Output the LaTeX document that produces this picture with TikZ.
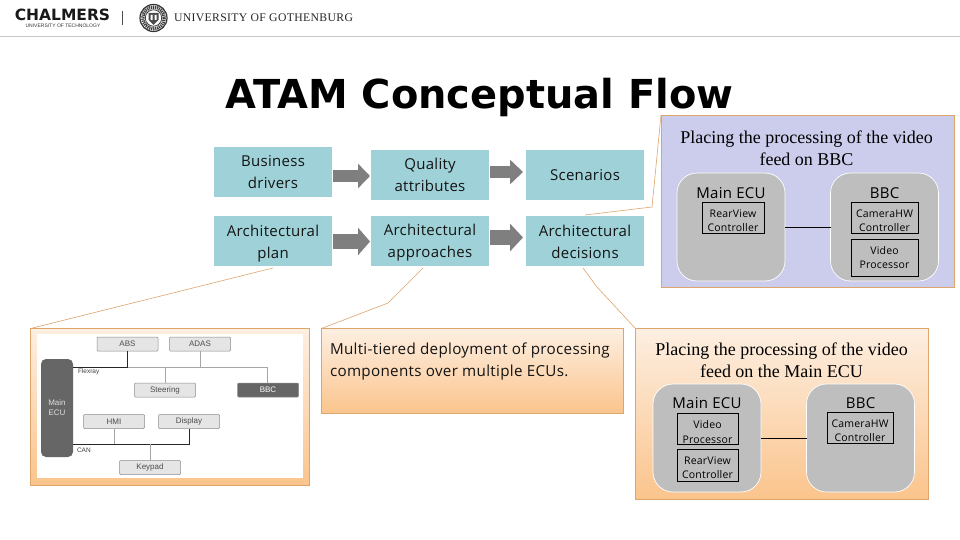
\documentclass[tikz,border=0pt]{standalone}
\usepackage{fontspec}
\setmainfont{Open Sans}
\newfontfamily\serifface{Liberation Serif}
\newfontfamily\gothface{Liberation Serif}[LetterSpace=3]
\newfontfamily\logoface{DejaVu Sans}
\newfontfamily\labelface{Liberation Sans}
\newfontfamily\boxface{Open Sans}[LetterSpace=2]
\usetikzlibrary{arrows.meta}
\definecolor{teal1}{HTML}{9FD2D8}
\definecolor{lav}{HTML}{CCCCEC}
\definecolor{tan1}{HTML}{DDA56C}
\definecolor{peach}{HTML}{FDEFE2}
\definecolor{orange1}{HTML}{FBC48C}
\definecolor{ecu}{HTML}{BEBEBE}
\definecolor{arrowgrey}{HTML}{7F7F7F}
\tikzset{
  x=1pt,y=-1pt,
  every node/.style={inner sep=0pt,outer sep=0pt,anchor=north west,align=center},
  bluebox/.style={fill=teal1,minimum width=118pt,minimum height=50pt,anchor=center},
  boxtext/.style={anchor=center,font=\boxface\fontsize{15}{22}\selectfont,text=black!92},
  flow/.style={arrowgrey,shorten <=1pt,shorten >=1pt},
  callout/.style={draw=tan1,line width=0.6pt},
  bluepanel/.style={draw=tan1,line width=0.9pt,fill=lav},
  orangepanel/.style={draw=tan1,line width=0.9pt,top color=peach,bottom color=orange1},
  ecubox/.style={draw=white,line width=0.7pt,fill=ecu,rounded corners=20pt,minimum width=108pt,minimum height=108pt},
  ecutitle/.style={anchor=center,font=\boxface\fontsize{15}{18}\selectfont},
  compbox/.style={draw=black,line width=0.8pt,anchor=center},
  comptext/.style={anchor=center,font=\boxface\fontsize{10.5}{14.5}\selectfont},
  heading/.style={anchor=center,font=\serifface\fontsize{18}{22}\selectfont},
  hw/.style={draw=black!45,fill=black!10,rounded corners=1pt,line width=0.5pt,minimum width=61pt,minimum height=14pt,anchor=center,font=\labelface\fontsize{8}{10}\selectfont,text=black!70},
  hwdark/.style={hw,fill=black!60,text=white},
  hwtag/.style={font=\labelface\fontsize{6.5}{8}\selectfont,text=black!75,anchor=west},
  busdark/.style={draw=black!85,line width=0.7pt},
  buslight/.style={draw=black!35,line width=0.8pt},
}
\begin{document}
\begin{tikzpicture}
\useasboundingbox (0,0) rectangle (960,540);
\fill[white] (0,0) rectangle (960,540);
% header
\node (rule) [fill=black!22,minimum width=960pt,minimum height=1pt] at (0,36) {};
\node (chalmers) [anchor=center,font=\logoface\bfseries\fontsize{15.5}{15}\selectfont,text=black!90] at (62.5,15) {CHALMERS};
\node (chalmerssub) [anchor=center,font=\labelface\fontsize{5}{5}\selectfont,text=black!80] at (63,26) {UNIVERSITY OF TECHNOLOGY};
\node (sep) [fill=black!70,minimum width=0.8pt,minimum height=14pt,anchor=center] at (122,18) {};
\node (seal) [circle,draw=black!80,line width=1.2pt,minimum size=27pt,anchor=center] at (153.5,18) {};
\draw[black!75,line width=3.4pt,dash pattern=on 1.2pt off 0.8pt] (seal.center) circle[radius=10.8];
\draw[black!80,line width=0.7pt] (seal.center) circle[radius=8.2];
\fill[black!70] (148.5,13) -- (158.5,13) -- (158.5,20) -- (153.5,25) -- (148.5,20) -- cycle;
\fill[white] (150.5,15) rectangle (152.5,20) (154.5,15) rectangle (156.5,20);
\node (gu) [anchor=center,font=\gothface\fontsize{11.7}{12}\selectfont,text=black!85] at (263.5,18) {UNIVERSITY OF GOTHENBURG};
% title
\node (title) [anchor=center,font=\logoface\bfseries\fontsize{39.9}{40}\selectfont] at (479.5,97) {ATAM Conceptual Flow};
% flow boxes
\node (bd) [bluebox] at (273,172) {};
\node (qa) [bluebox] at (430,175) {};
\node (sc) [bluebox] at (585,175) {};
\node (ap) [bluebox] at (273,241) {};
\node (aa) [bluebox] at (430,241) {};
\node (ad) [bluebox] at (585,241) {};
\node (bdt) [boxtext] at (bd.center) {Business\\drivers};
\node (qat) [boxtext] at (qa.center) {Quality\\attributes};
\node (sct) [boxtext,yshift=-0.5pt] at (sc.center) {Scenarios};
\node (apt) [boxtext,yshift=-2.5pt] at (ap.center) {Architectural\\plan};
\node (aat) [boxtext,yshift=-2pt] at (aa.center) {Architectural\\approaches};
\node (adt) [boxtext,yshift=-1pt] at (ad.center) {Architectural\\decisions};
\draw[flow,line width=12pt,-{Triangle[length=12pt,width=24pt]}] (bd.east |- qa.west) ++(0,1) -- ([yshift=-1pt]qa.west);
\draw[flow,line width=11.5pt,-{Triangle[length=13pt,width=24pt]}] ([yshift=3pt]qa.east) -- ([xshift=-2pt,yshift=3pt]sc.west);
\draw[flow,line width=15pt,-{Triangle[length=12pt,width=27pt]}] ([yshift=-0.5pt]ap.east) -- ([yshift=-0.5pt]aa.west);
\draw[flow,line width=15pt,-{Triangle[length=13pt,width=27pt]}] ([yshift=3.5pt]aa.east) -- ([xshift=-2pt,yshift=3.5pt]ad.west);
% panels
\node (pblue) [bluepanel,minimum width=293pt,minimum height=172pt] at (661,115) {};
\node (pleft) [orangepanel,minimum width=279pt,minimum height=157pt] at (30.5,328.5) {};
\node (pmid) [orangepanel,minimum width=302pt,minimum height=85pt] at (321.5,328.5) {};
\node (pright) [orangepanel,minimum width=293pt,minimum height=171pt] at (635,328) {};
% callouts
\coordinate (c1a) at (273,268);
\coordinate (c2a) at (423,268);
\coordinate (c2b) at (388,303);
\coordinate (c3a) at (583,268);
\coordinate (c3b) at (597,287);
\coordinate (c4a) at (585,215);
\coordinate (c4b) at (652,207);
\draw[callout] (c1a) -- (pleft.north west);
\draw[callout] (c2a) -- (c2b) -- (pmid.north west);
\draw[callout] (c3a) -- (c3b) -- (pright.north west);
\draw[callout] (c4a) -- (c4b) -- (pblue.north west);
% blue panel content
\node (h1) [heading] at (806.5,148) {Placing the processing of the video\\feed on BBC};
\node (e1) [ecubox] at (677,173) {};
\node (b1) [ecubox] at (830.5,173) {};
\node (e1t) [ecutitle] at (731,193.5) {Main ECU};
\node (b1t) [ecutitle] at (884.5,193.5) {BBC};
\node (rv1) [compbox,minimum width=62pt,minimum height=31pt] at (733,217.5) {};
\node (cam1) [compbox,minimum width=67pt,minimum height=31pt] at (884.5,217.5) {};
\node (vp1) [compbox,minimum width=67pt,minimum height=37pt] at (884.5,257.5) {};
\node (rv1t) [comptext,yshift=-3pt] at (rv1.center) {RearView\\Controller};
\node (cam1t) [comptext,yshift=-3pt] at (cam1.center) {CameraHW\\Controller};
\node (vp1t) [comptext] at (vp1.center) {Video\\Processor};
\draw[black,line width=0.8pt] (e1.east) -- (b1.west);
% middle panel text
\node (mt) [anchor=west,align=left,font=\boxface\fontsize{15.2}{22}\selectfont,text=black!92] at (330,362) {Multi-tiered deployment of processing\\components over multiple ECUs.};
% right panel content
\node (h2) [heading] at (781.5,360.5) {Placing the processing of the video\\feed on the Main ECU};
\node (e2) [ecubox] at (653,384) {};
\node (b2) [ecubox] at (806.5,384) {};
\node (e2t) [ecutitle] at (707,403.5) {Main ECU};
\node (b2t) [ecutitle] at (860.5,403.5) {BBC};
\node (vp2) [compbox,minimum width=61pt,minimum height=31pt] at (707.5,428.5) {};
\node (rv2) [compbox,minimum width=61pt,minimum height=32pt] at (707.5,465) {};
\node (cam2) [compbox,minimum width=66pt,minimum height=31pt] at (860,427.5) {};
\node (vp2t) [comptext,yshift=-3.5pt] at (vp2.center) {Video\\Processor};
\node (rv2t) [comptext,yshift=-2.5pt] at (rv2.center) {RearView\\Controller};
\node (cam2t) [comptext,yshift=-3pt] at (cam2.center) {CameraHW\\Controller};
\draw[black,line width=0.8pt] (e2.east) -- (b2.west);
% left panel image
\node (img) [fill=white,minimum width=266pt,minimum height=144pt] at (37,334) {};
\node (mainecu) [fill=black!60,rounded corners=5pt,minimum width=32pt,minimum height=98pt,anchor=center,font=\labelface\fontsize{8}{10}\selectfont,text=black!12] at (57,408) {Main\\ECU};
\node (abs) [hw] at (127.5,344) {ABS};
\node (adas) [hw] at (200,344) {ADAS};
\node (steer) [hw] at (165,390) {Steering};
\node (bbc) [hwdark] at (268,390) {BBC};
\node (hmi) [hw] at (114,421.5) {HMI};
\node (disp) [hw] at (189,421.5) {Display};
\node (key) [hw] at (150,467.5) {Keypad};
\coordinate (fx0) at (73,367);
\coordinate (fx1) at (267,367);
\coordinate (fxa) at (127.5,367);
\coordinate (fxb) at (200,367);
\coordinate (fxc) at (165,367);
\coordinate (can0) at (73,444);
\coordinate (can1) at (189,444);
\coordinate (cana) at (114,444);
\coordinate (canb) at (150,444);
\draw[buslight] (fxa) -- (fx1) -- (bbc.north -| fx1);
\draw[buslight] (adas.south) -- (fxb);
\draw[buslight] (steer.north) -- (fxc);
\draw[busdark] (fx0) -- (fxa) -- (abs.south);
\draw[busdark] (can0) -- (can1) -- (disp.south);
\draw[buslight] (hmi.south) -- (cana);
\draw[buslight] (key.north) -- (canb);
\node (flex) [hwtag] at (78,371.5) {Flexray};
\node (can) [hwtag] at (77,450.5) {CAN};
\end{tikzpicture}
\end{document}
